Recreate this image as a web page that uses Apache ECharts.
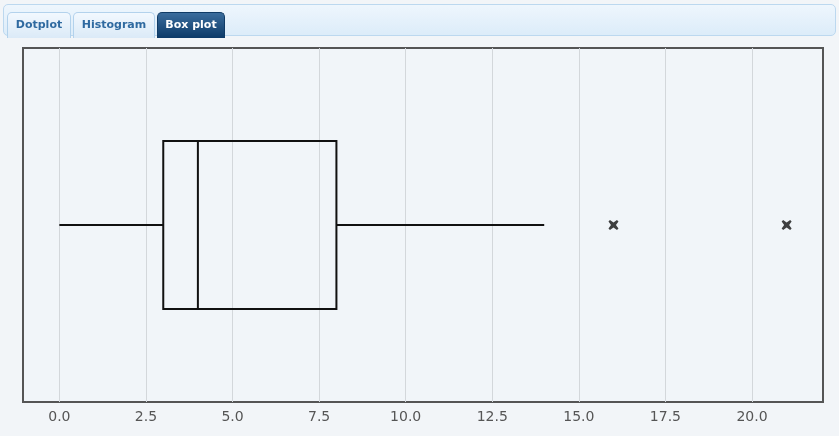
<!DOCTYPE html>
<html>
<head>
<meta charset="utf-8">
<script src="https://cdn.jsdelivr.net/npm/echarts@6/dist/echarts.min.js"></script>
<style>
html,body{margin:0;padding:0;background:#f2f5f8;width:839px;height:436px;overflow:hidden;}
#chart{position:absolute;left:0;top:0;width:839px;height:436px;}
#tabs{position:absolute;left:3px;top:4px;width:833px;height:32px;border:1px solid #bcd8ef;border-radius:5px;
 background:linear-gradient(#eef6fd,#dcecf9);box-sizing:border-box;}
.tab{position:absolute;top:7px;height:26px;box-sizing:border-box;border:1px solid #b3d2ec;border-bottom:none;
 border-radius:5px 5px 0 0;background:linear-gradient(#f2f8fe,#dbeaf7);font-family:"DejaVu Sans",Verdana,sans-serif;
 font-weight:bold;font-size:11px;color:#2f6aa0;text-align:center;line-height:24px;}
.tab.active{background:linear-gradient(#3a6c9c,#0c3a68);color:#fff;border-color:#0f3b66;}
</style>
</head>
<body>
<div id="chart"></div>
<div id="tabs">
 <div class="tab" style="left:3px;width:64px;">Dotplot</div>
 <div class="tab" style="left:69px;width:82px;">Histogram</div>
 <div class="tab active" style="left:153px;width:68px;">Box plot</div>
</div>
<script>
var categories = ['data'];
var boxStats = [[0, 3, 4, 8, 14]]; // min, Q1, median, Q3, max
var outliers = [[16, 0], [21, 0]];
var tickValues = [0, 2.5, 5, 7.5, 10, 12.5, 15, 17.5, 20];
var axisMin = -1.05, axisMax = 22.05;

var chart = echarts.init(document.getElementById('chart'));
chart.setOption({
  backgroundColor: 'transparent',
  animation: false,
  grid: {left: 23, right: 16, top: 48, bottom: 34, show: true, borderColor: '#555', borderWidth: 2, backgroundColor: '#f1f5f9'},
  xAxis: {
    type: 'value', min: axisMin, max: axisMax,
    axisLine: {show: false},
    axisTick: {show: false, customValues: tickValues},
    splitLine: {show: true, lineStyle: {color: '#d3d7db', width: 1}},
    axisLabel: {
      customValues: tickValues,
      margin: 8, color: '#555', fontSize: 14, fontFamily: 'DejaVu Sans',
      formatter: function (v) { return Number(v).toFixed(1); }
    }
  },
  yAxis: {
    type: 'category', data: categories, show: false
  },
  series: [{
    type: 'custom',
    data: boxStats.map(function (d, i) { return [i].concat(d); }),
    encode: {x: [1, 2, 3, 4, 5], y: 0},
    renderItem: function (params, api) {
      var ci = api.value(0);
      var pMin = api.coord([api.value(1), ci]);
      var pQ1 = api.coord([api.value(2), ci]);
      var pMed = api.coord([api.value(3), ci]);
      var pQ3 = api.coord([api.value(4), ci]);
      var pMax = api.coord([api.value(5), ci]);
      var h = api.size([0, 1])[1] * 0.475;
      var cy = pMin[1];
      var style = {stroke: '#111', lineWidth: 2, fill: null};
      return {
        type: 'group',
        children: [
          {type: 'line', shape: {x1: pMin[0], y1: cy, x2: pQ1[0], y2: cy}, style: style},
          {type: 'line', shape: {x1: pQ3[0], y1: cy, x2: pMax[0], y2: cy}, style: style},
          {type: 'rect', shape: {x: pQ1[0], y: cy - h / 2, width: pQ3[0] - pQ1[0], height: h}, style: style},
          {type: 'line', shape: {x1: pMed[0], y1: cy - h / 2, x2: pMed[0], y2: cy + h / 2}, style: style}
        ]
      };
    }
  }, {
    type: 'scatter',
    data: outliers,
    symbol: 'path://M1.5,0 L5,2.5 L8.5,0 L10,1.5 L7.5,5 L10,8.5 L8.5,10 L5,7.5 L1.5,10 L0,8.5 L2.5,5 L0,1.5 Z M3,3 L7,3 L7,7 L3,7 Z',
    symbolSize: 10,
    itemStyle: {color: '#111'}
  }]
});
</script>
</body>
</html>
